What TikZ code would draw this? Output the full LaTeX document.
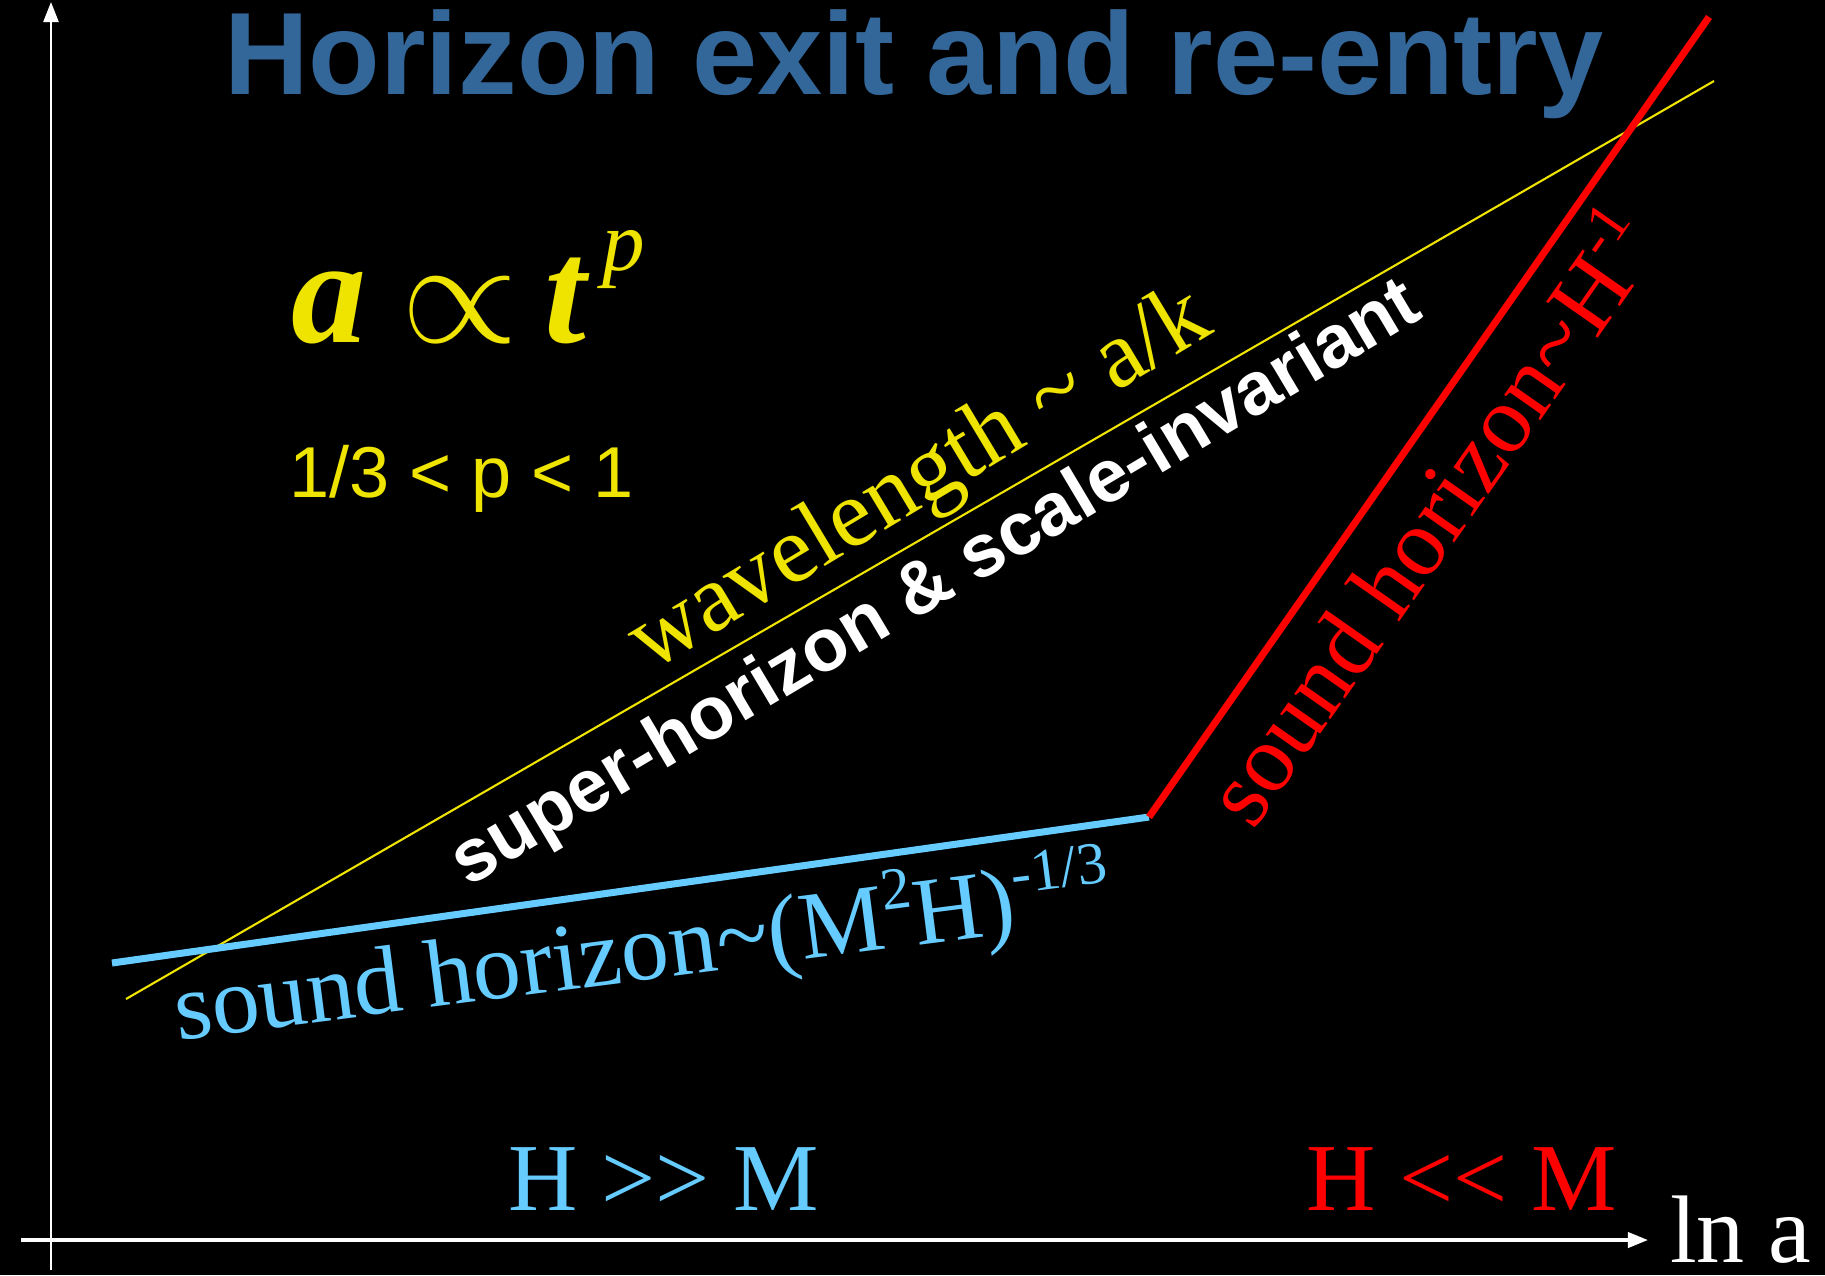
\documentclass[tikz,border=0pt]{standalone}
\usepackage{fontspec}
\usepackage{unicode-math}
\setmainfont{Liberation Serif}
\newfontfamily\arialfont{Liberation Sans}
\usetikzlibrary{arrows.meta}
\definecolor{titleblue}{RGB}{51,102,153}
\definecolor{skyblue}{RGB}{102,204,255}
\definecolor{hotred}{RGB}{255,0,0}
\definecolor{lemon}{RGB}{238,228,0}
\newcommand{\raisedsup}[1]{\raisebox{11pt}{\fontsize{17}{19}\selectfont #1}}

\begin{document}
\begin{tikzpicture}[x=0.01cm, y=-0.01cm,
  plain/.style={inner sep=0pt, outer sep=0pt, anchor=base west},
  times/.style={plain, font=\fontsize{27.3}{30}\selectfont},
  axisarrow/.style={white, -{Triangle[length=5.7pt,width=4.3pt]}},
  thickline/.style={line width=2pt}
]
\fill[black] (0,0) rectangle (1825,1275);
\useasboundingbox (0,0) rectangle (1825,1275);

\coordinate (ytop) at (51,2);
\coordinate (ybot) at (51,1270);
\coordinate (xleft) at (21,1240);
\coordinate (xright) at (1648,1240);
\draw[axisarrow, line width=0.6pt] (ybot) -- (ytop);
\draw[axisarrow, line width=1pt] (xleft) -- (xright);

\coordinate (wstart) at (126,999);
\coordinate (wend) at (1714,81);
\coordinate (sstart) at (112,963);
\coordinate (knee) at (1149,817);
\coordinate (rend) at (1709,17);
\draw[lemon, line width=0.6pt] (wstart) -- (wend);
\draw[skyblue, thickline] (sstart) -- (knee);
\draw[hotred, thickline] (knee) -- (rend);

\node[plain, anchor=base, text=titleblue,
      font=\arialfont\bfseries\fontsize{33.3}{38}\selectfont] (title) at (914,94)
  {Horizon exit and re-entry};

\node[plain, text=lemon, font=\fontsize{42.7}{50}\selectfont] (law) at (291,342)
  {\textbf{\textit{a}}\hspace{0.35cm}$\propto$\hspace{0.27cm}\textbf{\textit{t}}\hspace{0.12cm}\raisebox{0.71cm}{\fontsize{24.2}{28}\selectfont\textit{p}}};
\node[plain, text=lemon, font=\arialfont\fontsize{20.5}{24}\selectfont] (range) at (289,497)
  {1/3 < p < 1};

\node[times, text=lemon, rotate=31] (wave) at (650,672)
  {wavelength \textasciitilde{} a/k};
\node[plain, text=white, rotate=30.8,
      font=\arialfont\bfseries\fontsize{21.2}{24}\selectfont] (super) at (468,887)
  {super-horizon \& scale-invariant};
\node[times, text=skyblue, rotate=7.3] (early) at (178,1040)
  {sound horizon\textasciitilde(M\raisedsup{2}H)\raisedsup{-1/3}};
\node[times, text=hotred, rotate=55] (late) at (1253,831)
  {sound horizon\textasciitilde H\raisedsup{-1}};

\node[times, text=skyblue] (heavy) at (508,1210) {H >{}> M};
\node[times, text=hotred] (light) at (1306,1210) {H <{}< M};
\node[times, text=white] (lna) at (1670,1262) {ln a};
\end{tikzpicture}
\end{document}
